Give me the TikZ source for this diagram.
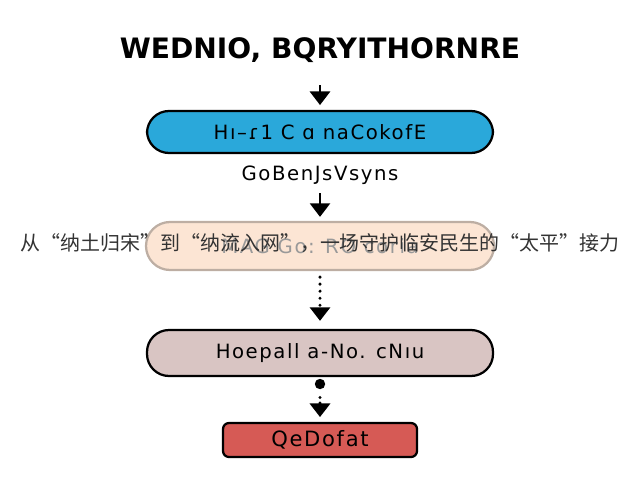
\documentclass[tikz,border=0pt]{standalone}
\usepackage{fontspec}
\setmainfont{DejaVu Sans}
\newfontfamily\boxfont[LetterSpace=8]{DejaVu Sans}
\newfontfamily\cjk{Noto Sans CJK SC}
\usetikzlibrary{arrows.meta}

\definecolor{pillblue}{HTML}{2AA8DA}
\definecolor{pillpeach}{HTML}{FCE5D4}
\definecolor{peachedge}{HTML}{BDAEA3}
\definecolor{pillmauve}{HTML}{D9C5C3}
\definecolor{boxred}{HTML}{D65A55}

\begin{document}
\begin{tikzpicture}[node distance=2cm]
    % Style definition for the pills
    \tikzset{pill/.style={rectangle, rounded corners=0.55cm, minimum width=8.65cm, minimum height=1.1cm,
             text centered, draw=black, line width=1.6pt, font=\boxfont\fontsize{14}{16}\selectfont}}
    \tikzstyle{arrow} = [line width=2pt,-{Triangle[width=0.5cm,length=0.34cm]}]
    \useasboundingbox (0,0) rectangle (16,12);

    % Title
    \node (title) at (8,10.75) {\fontsize{20}{24}\selectfont\bfseries WEDNIO, BQRYITHORNRE};

    % Main boxes
    \node (blue) [pill, fill=pillblue, below of=title, yshift=-0.05cm, minimum height=1.05cm] {Hı–ɾ1 C ɑ naCokofE};
    \node (sub) [below of=blue, yshift=0.925cm, font=\boxfont\fontsize{14}{16}\selectfont] {GoBenJsVsyns};
    \node (peach) [pill, fill=pillpeach, draw=peachedge, below of=sub, yshift=0.225cm, minimum width=8.7cm,
                   minimum height=1.2cm, rounded corners=0.6cm, text=black!40] {MAG Go: RO coria};
    \node (mauve) [pill, fill=pillmauve, below of=peach, yshift=-0.675cm, minimum height=1.15cm] {Hoepall a-No. cNıu};
    \node (red) [pill, fill=boxred, below of=mauve, yshift=-0.175cm, minimum width=4.85cm,
                 minimum height=0.85cm, rounded corners=0.15cm, font=\boxfont\fontsize{15}{17}\selectfont] {QeDofat};

    % Slogan over the peach box
    \node (slogan) at ([yshift=0.07cm]peach.center) {\cjk\fontsize{14.2}{16}\selectfont\color{black!80}从“纳土归宋”到“纳流入网”，一场守护临安民生的“太平”接力};

    % Dot under the mauve box
    \node (dot) [circle, fill=black, inner sep=0pt, minimum size=0.26cm, below of=mauve, yshift=1.225cm] {};

    % Arrows connecting the boxes
    \draw [arrow, shorten <=0.45cm, shorten >=0.12cm] (title) -- (blue);
    \draw [arrow, shorten <=0.1cm, shorten >=0.1cm] (sub) -- (peach);
    \draw [arrow, dash pattern=on 0pt off 5pt, line cap=round, line width=2.4pt,
           shorten <=0.15cm, shorten >=0.2cm] (peach) -- (mauve);
    \draw [arrow, dash pattern=on 0pt off 4pt, line cap=round, line width=2.4pt,
           shorten <=0.2cm, shorten >=0.12cm] (dot) -- (red);
\end{tikzpicture}
\end{document}
